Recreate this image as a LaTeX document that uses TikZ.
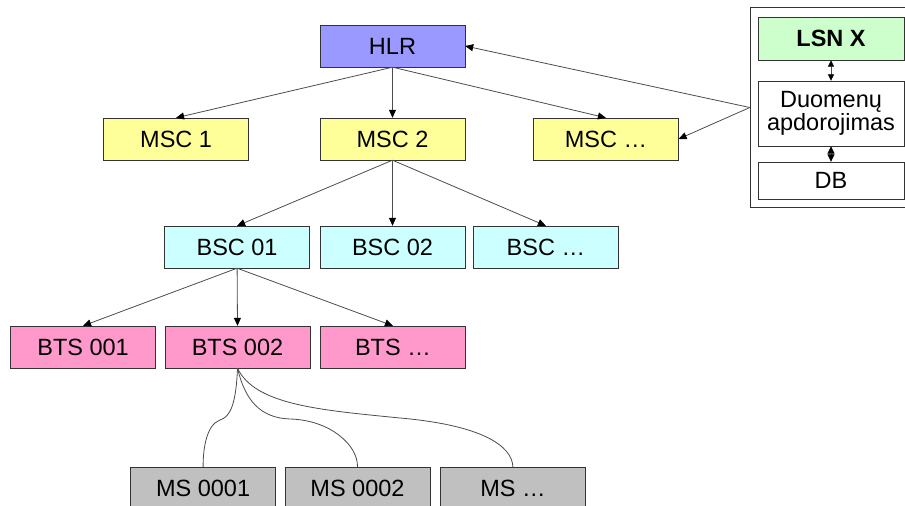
\documentclass[tikz,border=0pt]{standalone}
\usepackage{fontspec}
\setmainfont{Liberation Sans}
\usetikzlibrary{positioning, arrows.meta}
\definecolor{hlrblue}{RGB}{153,153,255}
\definecolor{mscyellow}{RGB}{255,255,153}
\definecolor{bsccyan}{RGB}{204,255,255}
\definecolor{btspink}{RGB}{255,153,204}
\definecolor{msgray}{RGB}{192,192,192}
\definecolor{lsngreen}{RGB}{204,255,204}

\begin{document}
\begin{tikzpicture}[x=1pt, y=-1pt,
    box/.style={draw=black!80, inner sep=0pt, minimum width=145pt, minimum height=42pt,
                font=\fontsize{23.5}{23}\selectfont},
    link/.style={draw=black!70, line width=0.8pt, -{Triangle[length=8pt,width=7pt,black]}},
    wire/.style={draw=black!70, line width=0.8pt},
    pair/.style={draw=black!70, line width=0.8pt, {Triangle[length=6.5pt,width=6pt,black]}-{Triangle[length=6.5pt,width=6pt,black]}},
    joined/.style={draw=black!70, line width=0.8pt, {Triangle[length=7.5pt,width=7pt,black]}-{Triangle[length=7.5pt,width=7pt,black]}}]
    \useasboundingbox (0,0) rectangle (905,506);
    % tree
    \node[box, fill=hlrblue] (hlr) at (392.5,46) {HLR};
    \node[box, fill=mscyellow] (msc2) at (392.5,139) {MSC 2};
    \node[box, fill=mscyellow, left=71pt of msc2] (msc1) {MSC 1};
    \node[box, fill=mscyellow, right=68pt of msc2] (mscx) {MSC \dots};
    \node[box, fill=bsccyan] (bsc02) at (392.5,247) {BSC 02};
    \node[box, fill=bsccyan, left=10pt of bsc02] (bsc01) {BSC 01};
    \node[box, fill=bsccyan, right=8pt of bsc02] (bscx) {BSC \dots};
    \node[box, fill=btspink] (bts002) at (237.5,347) {BTS 002};
    \node[box, fill=btspink, left=9pt of bts002] (bts001) {BTS 001};
    \node[box, fill=btspink, right=10pt of bts002] (btsx) {BTS \dots};
    \node[box, fill=msgray] (ms0002) at (357.5,488) {MS 0002};
    \node[box, fill=msgray, left=9pt of ms0002] (ms0001) {MS 0001};
    \node[box, fill=msgray, right=10pt of ms0002] (msx) {MS \dots};
    % LSN block
    \node[draw=black!80, inner sep=0pt, minimum width=160pt, minimum height=200pt] (lsn) at (830,107.5) {};
    \node[box, fill=lsngreen, minimum width=146pt, minimum height=43pt, font=\fontsize{23.5}{23}\selectfont\bfseries] (lsnx) at (831,38.5) {LSN X};
    \node[box, minimum width=146pt, minimum height=65pt, align=center] (duom) at (831,113.5) {Duomenų\\apdorojimas};
    \node[box, minimum width=146pt, minimum height=37pt] (db) at (831,180.5) {DB};

    \draw[link] (hlr.south) -- (msc1.north);
    \draw[link] (hlr.south) -- (msc2.north);
    \draw[link] (hlr.south) -- (mscx.north);
    \draw[link] (msc2.south) -- (bsc01.north);
    \draw[link] (msc2.south) -- (bsc02.north);
    \draw[link] (msc2.south) -- (bscx.north);
    \draw[link] (bsc01.south) -- (bts001.north);
    \draw[link] (bsc01.south) -- (bts002.north);
    \draw[link] (bsc01.south) -- (btsx.north);
    \draw[link] (lsn.west) -- (hlr.east);
    \draw[link] (lsn.west) -- (mscx.east);
    \draw[pair] (lsnx.south) -- (duom.north);
    \draw[joined] (duom.south) -- (db.north);
    % radio links
    \draw[wire] (bts002.south) .. controls (236,405) and (230,417) .. (220,420)
        .. controls (206,425) and (203,450) .. (ms0001.north);
    \draw[wire] (bts002.south) .. controls (245,400) and (260,418) .. (290,419)
        .. controls (330,420) and (358,445) .. (ms0002.north);
    \draw[wire] (bts002.south) .. controls (255,405) and (320,410) .. (400,418)
        .. controls (480,425) and (512,445) .. (msx.north);
\end{tikzpicture}
\end{document}
